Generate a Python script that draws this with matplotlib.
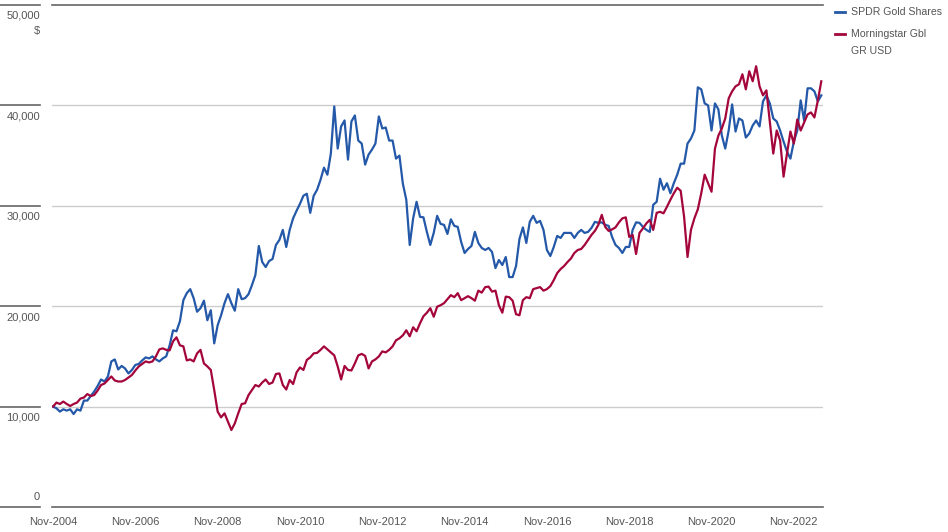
import matplotlib
matplotlib.use('Agg')
import matplotlib.pyplot as plt
from matplotlib.lines import Line2D
from matplotlib.transforms import blended_transform_factory

# growth of 10,000 USD, monthly from Nov-2004, values in thousands
gold = [10.0, 9.83, 9.5, 9.73, 9.6, 9.73, 9.26, 9.73, 9.6, 10.6, 10.6, 11.06, 11.5, 12.05, 12.7, 12.5, 13.0, 14.5, 14.7, 13.7,
        14.05, 13.8, 13.3, 13.65, 14.15, 14.25, 14.6, 14.9, 14.8, 15.0, 14.7, 14.5, 14.8, 15.0, 16.1, 17.6, 17.5, 18.5, 20.6, 21.3,
        21.7, 20.8, 19.45, 19.8, 20.55, 18.6, 19.6, 16.3, 18.1, 19.1, 20.3, 21.2, 20.3, 19.55, 21.7, 20.7, 20.8, 21.2, 22.1, 23.1,
        26.0, 24.4, 23.9, 24.5, 24.7, 26.1, 26.6, 27.6, 25.9, 27.6, 28.75, 29.5, 30.2, 31.0, 31.2, 29.3, 31.0, 31.6, 32.6,
        33.8, 33.1, 35.2, 39.9, 35.7, 37.9, 38.5, 34.6, 38.4, 39.0, 36.5, 36.2, 34.1, 35.1, 35.6, 36.2, 38.9, 37.7, 37.8, 36.5,
        36.5, 34.7, 35.0, 32.2, 30.6, 26.1, 28.75, 30.4, 28.9, 28.85, 27.4, 26.1, 27.3, 29.0, 28.2, 28.1, 27.2,
        28.65, 28.0, 27.9, 26.4, 25.3, 25.7, 26.0, 27.4, 26.3, 25.8, 25.6, 25.8, 25.4, 23.8, 24.6, 24.1, 24.9, 22.9, 22.9, 24.0,
        26.7, 27.85, 26.3, 28.4, 29.0, 28.3, 28.5, 27.6, 25.6, 25.0, 25.9, 27.0, 26.8, 27.3, 27.3, 27.3, 26.8, 27.3,
        27.6, 27.3, 27.4, 27.8, 28.4, 28.3, 28.35, 28.1, 28.0, 26.9, 26.1, 25.8, 25.3, 25.9, 25.9, 27.6, 28.35, 28.3, 27.9, 27.6,
        27.4, 30.1, 30.4, 32.7, 31.6, 32.25, 31.25, 32.25, 33.1, 34.2, 34.2,
        36.2, 36.7, 37.5, 41.8, 41.6, 40.2, 40.0, 37.5, 40.2, 39.6, 37.0, 35.7, 37.5, 40.1, 37.4, 38.7, 38.5, 36.8, 37.2, 38.0,
        38.5, 37.9, 40.4, 41.0, 40.2, 38.7, 38.4, 37.5, 36.4, 35.4, 34.7, 36.4, 37.5, 40.5, 38.5, 41.7, 41.7, 41.4, 40.4, 41.0]

world = [10.0, 10.4, 10.26, 10.5, 10.26, 10.06, 10.26, 10.4, 10.8, 10.9, 11.25, 11.05, 11.15, 11.6, 12.15, 12.3, 12.65, 13.0, 12.6, 12.5,
         12.5, 12.65, 12.9, 13.15, 13.6, 14.0, 14.25, 14.5, 14.4, 14.5, 15.0, 15.7, 15.8, 15.65, 15.6, 16.5, 16.9, 16.1, 16.0, 14.6,
         14.7, 14.5, 15.3, 15.65, 14.3, 14.0, 13.65, 11.65, 9.5, 8.93, 9.33, 8.5, 7.67, 8.33, 9.33, 10.26, 10.33, 11.15, 11.65, 12.15,
         12.0, 12.4, 12.7, 12.25, 12.4, 13.25, 13.3, 12.15, 11.7, 12.65, 12.25, 13.4, 13.9, 13.65, 14.65, 14.9, 15.3, 15.35, 15.65,
         16.0, 15.7, 15.4, 15.1, 14.0, 12.7, 14.05, 13.65, 13.6, 14.3, 15.1, 15.25, 15.05, 13.8, 14.5, 14.7, 15.0, 15.5, 15.4, 15.65,
         16.0, 16.6, 16.8, 17.1, 17.6, 17.0, 17.9, 17.5, 18.3, 19.0, 19.35, 19.8, 18.95, 19.95, 20.1, 20.3, 20.7,
         21.1, 20.9, 21.3, 20.6, 20.8, 21.0, 20.8, 20.55, 21.55, 21.35, 21.9, 21.95, 21.45, 21.55, 20.1, 19.35, 20.95, 20.9, 20.55, 19.2,
         19.1, 20.6, 20.9, 20.8, 21.7, 21.8, 21.9, 21.55, 21.7, 22.0, 22.6, 23.3, 23.7, 24.0, 24.4, 24.75, 25.3, 25.6,
         25.7, 26.1, 26.6, 27.1, 27.5, 28.1, 29.1, 27.9, 27.5, 27.65, 27.85, 28.35, 28.75, 28.85, 26.9, 27.1, 25.2, 27.3, 27.75, 28.25,
         28.6, 27.6, 29.3, 29.4, 29.25, 29.9, 30.6, 31.25, 31.8, 31.5, 28.9,
         24.9, 27.6, 28.75, 29.65, 31.25, 33.1, 32.25, 31.4, 35.7, 37.0, 37.7, 38.7, 40.7, 41.4, 41.9, 42.1, 43.1, 41.6, 43.4, 42.4,
         43.9, 41.9, 41.0, 41.5, 38.4, 35.2, 37.5, 36.5, 32.9, 35.2, 37.4, 36.2, 38.6, 37.5, 38.3, 39.1, 39.3, 38.8, 40.5, 42.4]

names = ['SPDR Gold Shares', 'Morningstar Gbl\nGR USD']
colors = ['#2458a8', '#a4063c']
y_ticks = [0, 10000, 20000, 30000, 40000, 50000]
x_labels = ['Nov-2004', 'Nov-2006', 'Nov-2008', 'Nov-2010', 'Nov-2012',
            'Nov-2014', 'Nov-2016', 'Nov-2018', 'Nov-2020', 'Nov-2022']

plt.rcParams['font.family'] = ['Liberation Sans', 'DejaVu Sans']
fs = 8
txt = '#555555'

W, H = 948, 532
fig = plt.figure(figsize=(W / 100, H / 100), dpi=100)
ax = fig.add_axes([52 / W, 25 / H, 771 / W, 502 / H])

months = list(range(len(gold)))
ax.plot(months, [v * 1000 for v in gold], color=colors[0], lw=1.6)
ax.plot(months, [v * 1000 for v in world], color=colors[1], lw=1.6)

ax.set_ylim(0, 50000)
ax.set_xlim(-0.3, 224.5)
for s in ax.spines.values():
    s.set_visible(False)

for v in y_ticks:
    if v in (0, 50000):
        ax.axhline(v, color='#666666', lw=1.2, clip_on=False, zorder=0)
    else:
        ax.axhline(v, color='#cccccc', lw=1, zorder=0)

# short tick lines and labels in the left margin
trans = blended_transform_factory(fig.transFigure, ax.transData)
for v in y_ticks:
    ax.plot([0, 40 / W], [v, v], transform=trans, color='#666666', lw=1.2, clip_on=False)
    if v == 0:
        ax.annotate('0', xy=(40 / W, v), xycoords=trans, xytext=(0, 5), textcoords='offset pixels',
                    ha='right', va='bottom', color=txt, fontsize=fs)
    else:
        ax.annotate(f'{v:,}', xy=(40 / W, v), xycoords=trans, xytext=(0, -6), textcoords='offset pixels',
                    ha='right', va='top', color=txt, fontsize=fs)
ax.annotate('$', xy=(40 / W, 50000), xycoords=trans, xytext=(0, -21), textcoords='offset pixels',
            ha='right', va='top', color=txt, fontsize=fs)

ax.set_yticks([])
ax.set_xticks(range(0, 217, 24))
ax.set_xticklabels(x_labels, color=txt, fontsize=fs)
ax.tick_params(axis='x', length=0, pad=7)

# legend drawn by hand, handle lined up with the first text line
for name, c, y in zip(names, colors, [12, 34]):
    fy = 1 - y / H
    fig.add_artist(Line2D([835 / W, 845 / W], [fy, fy], color=c, lw=2))
    fig.text(851 / W, fy + 5 / H, name, ha='left', va='top', color=txt,
             fontsize=7.6, linespacing=1.85)

fig.savefig('out.png', dpi=100)
